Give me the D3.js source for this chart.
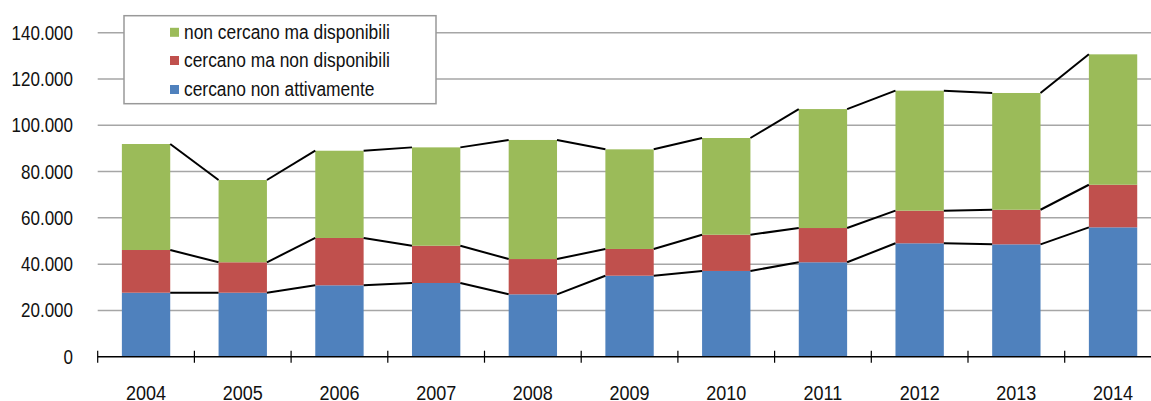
<!DOCTYPE html>
<html>
<head>
<meta charset="utf-8">
<script src="https://cdn.jsdelivr.net/npm/d3@7"></script>
<style>
  html, body { margin: 0; padding: 0; background: #fff; }
  svg { display: block; font-family: "Liberation Sans", Arial, sans-serif; }
</style>
</head>
<body>
<svg id="chart" width="1151" height="401"></svg>
<script>
// Anni
const years = ["2004","2005","2006","2007","2008","2009","2010","2011","2012","2013","2014"];

// Serie (valori assoluti)
const cercanoNonAttivamente = [27650, 27650, 30850, 31850, 26950, 35000, 37050, 40800, 49000, 48550, 55900];
const cercanoMaNonDisponibili = [18450, 13150, 20450, 16100, 15250, 11550, 15650, 14800, 14100, 14950, 18400];
const nonCercanoMaDisponibili = [45800, 35550, 37700, 42500, 51450, 43050, 41800, 51400, 51850, 50450, 56350];

const seriesNames = ["cercano non attivamente", "cercano ma non disponibili", "non cercano ma disponibili"];
const seriesColors = ["#4F81BD", "#C0504D", "#9BBB59"];

const yTicks = [0, 20000, 40000, 60000, 80000, 100000, 120000, 140000];
const tickLabels = ["0", "20.000", "40.000", "60.000", "80.000", "100.000", "120.000", "140.000"];

const rows = years.map((y, i) => ({
  year: y,
  s0: cercanoNonAttivamente[i],
  s1: cercanoMaNonDisponibili[i],
  s2: nonCercanoMaDisponibili[i]
}));
const stacked = d3.stack().keys(["s0", "s1", "s2"])(rows);

const svg = d3.select("#chart");
const plotLeft = 97.7, plotRight = 1161.4, plotTop = 32.7, plotBottom = 356.7;
const stretch = 1.17;

const x = d3.scaleBand().domain(years).range([plotLeft, plotRight])
  .paddingInner(0.5).paddingOuter(0.25);
const y = d3.scaleLinear().domain([0, 140000]).range([plotBottom, plotTop]);

// testo leggermente allungato in verticale
function label(g, tx, ty, str, size, anchor) {
  return g.append("text")
    .attr("transform", `translate(${tx},${ty}) scale(1,${stretch})`)
    .attr("text-anchor", anchor)
    .attr("dominant-baseline", "central")
    .attr("font-size", size)
    .attr("fill", "#111")
    .text(str);
}

// griglia orizzontale
svg.append("g").selectAll("line")
  .data(yTicks.filter(d => d > 0))
  .join("line")
  .attr("x1", plotLeft).attr("x2", 1151)
  .attr("y1", d => y(d)).attr("y2", d => y(d))
  .attr("stroke", "#a6a6a6").attr("stroke-width", 1.5);

// etichette asse y
const yl = svg.append("g");
yTicks.forEach((t, i) => label(yl, 73, y(t), tickLabels[i], 17, "end"));

// barre impilate
svg.append("g").selectAll("g")
  .data(stacked)
  .join("g")
  .attr("fill", (d, i) => seriesColors[i])
  .selectAll("rect")
  .data(d => d)
  .join("rect")
  .attr("x", d => x(d.data.year))
  .attr("width", x.bandwidth())
  .attr("y", d => y(d[1]))
  .attr("height", d => y(d[0]) - y(d[1]));

// linee di collegamento tra le barre
const connectors = svg.append("g").attr("stroke", "#000").attr("stroke-width", 2).attr("fill", "none");
stacked.forEach(layer => {
  for (let i = 0; i < layer.length - 1; i++) {
    connectors.append("line")
      .attr("x1", x(years[i]) + x.bandwidth())
      .attr("y1", y(layer[i][1]))
      .attr("x2", x(years[i + 1]))
      .attr("y2", y(layer[i + 1][1]));
  }
});

// asse x
const xa = svg.append("g");
xa.append("line")
  .attr("x1", plotLeft).attr("x2", 1151)
  .attr("y1", plotBottom).attr("y2", plotBottom)
  .attr("stroke", "#000").attr("stroke-width", 1.5);
const step = x.step();
xa.selectAll("line.tick")
  .data(d3.range(years.length + 1))
  .join("line")
  .attr("class", "tick")
  .attr("x1", i => plotLeft + i * step).attr("x2", i => plotLeft + i * step)
  .attr("y1", plotBottom - 6).attr("y2", plotBottom + 6)
  .attr("stroke", "#000").attr("stroke-width", 1.2);
years.forEach(yr => label(xa, x(yr) + x.bandwidth() / 2, 392.5, yr, 18, "middle"));

// legenda
const lg = svg.append("g");
lg.append("rect")
  .attr("x", 124).attr("y", 15.7).attr("width", 312).attr("height", 88)
  .attr("fill", "#fff").attr("stroke", "#999").attr("stroke-width", 1.5);
const legendOrder = [2, 1, 0];
const rowY = [32.3, 60.5, 89.5];
legendOrder.forEach((si, r) => {
  lg.append("rect")
    .attr("x", 170).attr("y", rowY[r] - 4.5).attr("width", 9).attr("height", 9)
    .attr("fill", seriesColors[si]);
  label(lg, 184, rowY[r], seriesNames[si], 17.4, "start");
});
</script>
</body>
</html>
